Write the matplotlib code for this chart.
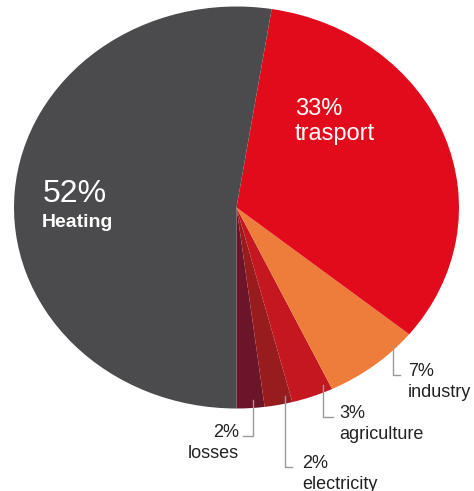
import matplotlib.pyplot as plt
import numpy as np

# energy use shares (%), drawn counter-clockwise from the bottom
sectors = ['losses', 'electricity', 'agriculture', 'industry', 'trasport', 'Heating']
shares = [2, 2, 3, 7, 33, 52]
colors = ['#6c1428', '#981b1e', '#c4171f', '#ee7c3a', '#e20b1b', '#4b4b4d']

# small labels with leader lines: (sector, fraction along wedge, leader end, text pos, align)
callouts = [
    ('losses', 0.6, (253, 436), (243, 436), (239, 437), 'right'),
    ('electricity', 0.73, (285, 467), (292, 467), (302, 468), 'left'),
    ('agriculture', 0.77, (323, 417), (333, 417), (339, 418), 'left'),
    ('industry', 0.75, (393, 375), (400, 375), (408, 376), 'left'),
]

W, H = 474, 491
cx, cy, rx, ry = 236.5, 207.5, 222.5, 201

plt.rcParams['font.family'] = ['Liberation Sans', 'DejaVu Sans']
fig = plt.figure(figsize=(W / 100, H / 100), dpi=100)
ax = fig.add_axes([0, 0, 1, 1])

wedges, _ = ax.pie(shares, colors=colors, startangle=270, counterclock=True,
                   wedgeprops=dict(linewidth=0))
ax.set_aspect('auto')
ax.set_xlim(-cx / rx, (W - cx) / rx)
ax.set_ylim(-(H - cy) / ry, cy / ry)
ax.axis('off')


def px(x, y):
    # pixel position -> data coordinates
    return (x - cx) / rx, (cy - y) / ry


# big labels inside the pie
ax.text(*px(43, 202), '52%', color='white', fontsize=23, va='baseline')
ax.text(*px(42, 227), 'Heating', color='white', fontsize=14, fontweight='bold', va='baseline')
ax.text(*px(295, 115), '33%', color='white', fontsize=17, va='baseline')
ax.text(*px(295, 140), 'trasport', color='white', fontsize=17, va='baseline')

for name, frac, corner, end, tpos, ha in callouts:
    w = wedges[sectors.index(name)]
    th = np.radians(w.theta1 + frac * (w.theta2 - w.theta1))
    x0, y0 = np.cos(th), 0.96 * np.sin(th)
    cxd, cyd = px(*corner)
    exd, eyd = px(*end)
    ax.plot([x0, x0, exd], [y0, cyd, eyd], color='#9a9a9a', lw=1)
    pct = shares[sectors.index(name)]
    ax.text(*px(*tpos), f'{pct}%', fontsize=13, color='#222222', ha=ha, va='baseline')
    ax.text(*px(tpos[0], tpos[1] + 21), name, fontsize=13, color='#222222', ha=ha, va='baseline')

fig.savefig('out.png', dpi=100)
